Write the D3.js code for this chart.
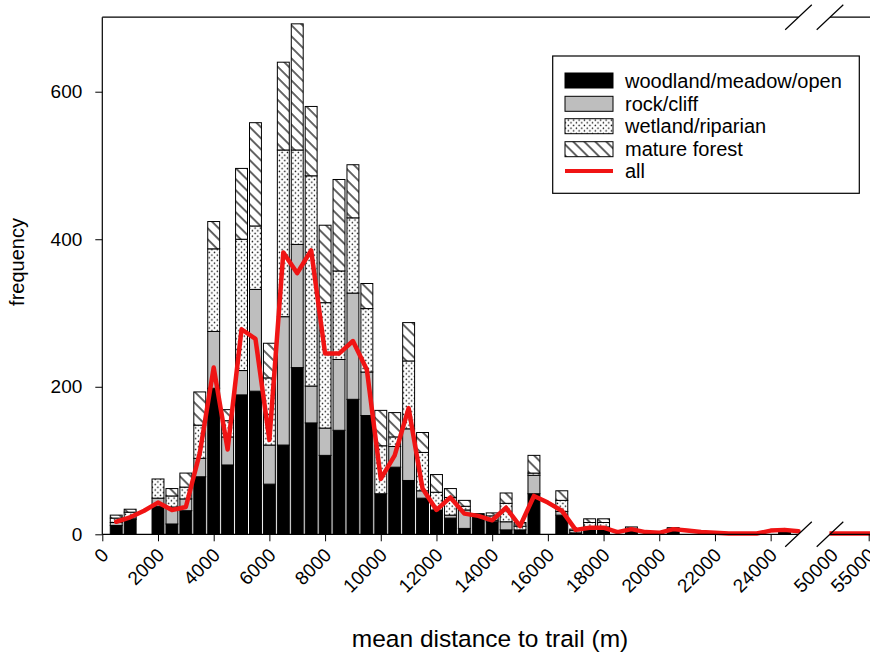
<!DOCTYPE html>
<html>
<head>
<meta charset="utf-8">
<script src="https://cdn.jsdelivr.net/npm/d3@7"></script>
<style>
  body { margin: 0; background: #fff; }
  svg { display: block; font-family: "Liberation Sans", Arial, sans-serif; }
</style>
</head>
<body>
<svg></svg>
<script>
// bin centres (m) for the bars
const bins = [500, 1000, 1500, 2000, 2500, 3000, 3500, 4000, 4500, 5000,
  5500, 6000, 6500, 7000, 7500, 8000, 8500, 9000, 9500, 10000,
  10500, 11000, 11500, 12000, 12500, 13000, 13500, 14000, 14500, 15000,
  15500, 16000, 16500, 17000, 17500, 18000, 18500, 19000, 19500, 20000,
  20500, 21000, 21500, 22000, 22500, 23000, 23500, 24000, 24500];

const woodland = [12, 20, 0, 38, 14, 32, 78, 198, 94, 189,
  194, 68, 121, 226, 151, 107, 141, 183, 161, 55,
  91, 73, 49, 33, 22, 8, 28, 17, 6, 6,
  55, 0, 26, 2, 8, 8, 0, 5, 0, 0,
  5, 0, 0, 0, 0, 0, 0, 0, 4];
const rock = [4, 2, 0, 11, 23, 16, 25, 77, 38, 33,
  138, 53, 174, 167, 50, 37, 96, 144, 59, 0,
  28, 70, 10, 0, 4, 25, 0, 2, 11, 0,
  25, 0, 5, 0, 2, 2, 0, 1, 0, 0,
  0, 0, 0, 0, 0, 0, 0, 0, 0];
const wetland = [6, 8, 0, 26, 15, 16, 45, 112, 22, 178,
  86, 91, 226, 128, 285, 170, 120, 102, 86, 65,
  13, 92, 52, 24, 24, 5, 0, 6, 25, 5,
  3, 0, 15, 3, 6, 6, 0, 2, 0, 0,
  2, 0, 0, 0, 0, 0, 0, 0, 0];
const mature = [4, 4, 0, 0, 10, 19, 45, 37, 15, 96,
  140, 47, 119, 171, 94, 105, 124, 72, 34, 48,
  33, 52, 27, 24, 12, 8, 0, 4, 14, 5,
  24, 0, 13, 2, 5, 5, 0, 2, 0, 0,
  2, 0, 0, 0, 0, 0, 0, 0, 1];

// "all" line, left of the axis break
const allDist = [500, 1000, 1500, 2000, 2500, 3000, 3500, 4000, 4500, 5000,
  5500, 6000, 6500, 7000, 7500, 8000, 8500, 9000, 9500, 10000,
  10500, 11000, 11500, 12000, 12500, 13000, 13500, 14000, 14500, 15000,
  15500, 16000, 16500, 17000, 17500, 18000, 18500, 19000, 19500, 20000,
  20500, 21000, 21500, 22000, 22500, 23000, 23500, 24000, 24500, 25000];
const allFreq = [17, 23, 32, 43, 33, 37, 110, 226, 115, 278,
  265, 128, 382, 354, 385, 245, 245, 262, 223, 75,
  107, 171, 62, 33, 50, 28, 25, 19, 36, 11,
  52, 43, 32, 6, 9, 9, 3, 7, 3, 2,
  7, 5, 3, 2, 1, 1, 1, 5, 6, 4];
// "all" line, right of the break
const farDist = [49700, 50500, 51500, 52500, 53500, 54500, 55500];
const farFreq = [1, 1, 1, 1, 1, 1, 1];

const xTicks = [0, 2000, 4000, 6000, 8000, 10000, 12000, 14000, 16000, 18000, 20000, 22000, 24000];
const xTicksFar = [50000, 55000];
const yTicks = [0, 200, 400, 600];

const keys = ["woodland", "rock", "wetland", "mature"];
const labels = ["woodland/meadow/open", "rock/cliff", "wetland/riparian", "mature forest"];

const svgWidth = 870;
const svgHeight = 654;
const plotLeft = 102.3;
const plotTop = 17.2;
const plotBottom = 534.3;
const breakA = 798.5;
const breakB = 830;

let svg = d3.select("svg")
  .attr("width", svgWidth)
  .attr("height", svgHeight);

//patterns
let defs = svg.append("defs");
let dots = defs.append("pattern")
  .attr("id", "dots")
  .attr("patternUnits", "userSpaceOnUse")
  .attr("width", 5.4)
  .attr("height", 5.4);
dots.append("rect").attr("width", 5.4).attr("height", 5.4).attr("fill", "#fff");
dots.append("circle").attr("cx", 1.3).attr("cy", 1.3).attr("r", 0.75).attr("fill", "#000");
dots.append("circle").attr("cx", 4).attr("cy", 4).attr("r", 0.75).attr("fill", "#000");

let hatch = defs.append("pattern")
  .attr("id", "hatch")
  .attr("patternUnits", "userSpaceOnUse")
  .attr("width", 7.8)
  .attr("height", 7.8)
  .attr("patternTransform", "rotate(-45)");
hatch.append("rect").attr("width", 7.8).attr("height", 7.8).attr("fill", "#fff");
hatch.append("line").attr("x1", 1).attr("x2", 1).attr("y1", 0).attr("y2", 7.8)
  .attr("stroke", "#000").attr("stroke-width", 1.2);

const fills = {
  woodland: "#000",
  rock: "#bebebe",
  wetland: "url(#dots)",
  mature: "url(#hatch)"
};

//scales
let xScale = d3.scaleLinear().domain([0, 25000]).range([plotLeft, breakA]);
let xFar = d3.scaleLinear().domain([50000, 55000]).range([831.7, 868.7]);
let yScale = d3.scaleLinear().domain([0, 701]).range([plotBottom, plotTop]);

//stacked bars
let table = bins.map((b, i) => ({
  bin: b,
  woodland: woodland[i],
  rock: rock[i],
  wetland: wetland[i],
  mature: mature[i]
}));
let stacked = d3.stack().keys(keys)(table);
const barW = xScale(500) - xScale(0) - 2;

svg.append("g").selectAll("g")
  .data(stacked)
  .enter()
  .append("g")
  .attr("fill", (d) => fills[d.key])
  .selectAll("rect")
  .data((d) => d.filter((s) => s[1] - s[0] > 0))
  .enter()
  .append("rect")
  .attr("x", (d) => xScale(d.data.bin) - barW / 2)
  .attr("y", (d) => yScale(d[1]))
  .attr("width", barW)
  .attr("height", (d) => yScale(d[0]) - yScale(d[1]))
  .attr("stroke", "#000")
  .attr("stroke-width", 1);

//all line
let line = d3.line().x((d) => d[0]).y((d) => d[1]);
svg.append("path")
  .attr("d", line(allDist.map((d, i) => [xScale(d), yScale(allFreq[i])])))
  .attr("fill", "none")
  .attr("stroke", "#f01414")
  .attr("stroke-width", 4.5)
  .attr("stroke-linejoin", "round")
  .attr("stroke-linecap", "round");
svg.append("path")
  .attr("d", line(farDist.map((d, i) => [xFar(d), yScale(farFreq[i])])))
  .attr("fill", "none")
  .attr("stroke", "#f01414")
  .attr("stroke-width", 4.5)
  .attr("stroke-linejoin", "round");

//frame lines
const frame = svg.append("g").attr("stroke", "#000").attr("stroke-width", 1.2);
frame.append("line").attr("x1", plotLeft).attr("x2", plotLeft).attr("y1", plotTop).attr("y2", plotBottom);
frame.append("line").attr("x1", plotLeft).attr("x2", breakA).attr("y1", plotTop).attr("y2", plotTop);
frame.append("line").attr("x1", breakB).attr("x2", svgWidth).attr("y1", plotTop).attr("y2", plotTop);
frame.append("line").attr("x1", plotLeft).attr("x2", breakA).attr("y1", plotBottom).attr("y2", plotBottom);
frame.append("line").attr("x1", breakB).attr("x2", svgWidth).attr("y1", plotBottom).attr("y2", plotBottom);
[breakA, breakB].forEach((bx) => {
  [plotTop, plotBottom].forEach((by) => {
    frame.append("line")
      .attr("x1", bx - 13.3).attr("y1", by + 12.5)
      .attr("x2", bx + 13.3).attr("y2", by - 12.5);
  });
});

//axes
let yAxis = d3.axisLeft(yScale).tickValues(yTicks).tickSize(7).tickPadding(13).tickSizeOuter(0);
let gy = svg.append("g").attr("transform", `translate(${plotLeft}, 0)`).call(yAxis);
gy.select(".domain").remove();
gy.selectAll("text").attr("font-size", 19).attr("font-family", "Liberation Sans, Arial, sans-serif").attr("fill", "#000");

function styleX(g) {
  g.select(".domain").remove();
  g.selectAll("text")
    .attr("font-size", 19)
    .attr("font-family", "Liberation Sans, Arial, sans-serif")
    .attr("fill", "#000")
    .attr("text-anchor", "end")
    .attr("x", 0)
    .attr("y", 0)
    .attr("dy", 0)
    .attr("transform", "translate(7, 22) rotate(-45)");
}
let gx = svg.append("g").attr("transform", `translate(0, ${plotBottom})`)
  .call(d3.axisBottom(xScale).tickValues(xTicks).tickFormat(d3.format("d")).tickSize(7).tickSizeOuter(0));
styleX(gx);
let gx2 = svg.append("g").attr("transform", `translate(0, ${plotBottom})`)
  .call(d3.axisBottom(xFar).tickValues(xTicksFar).tickFormat(d3.format("d")).tickSize(7).tickSizeOuter(0));
styleX(gx2);
gx2.selectAll(".tick line").filter((d) => d === 50000).remove();

//axis titles
svg.append("text")
  .attr("text-anchor", "middle")
  .attr("font-size", 20)
  .attr("transform", "translate(24, 262) rotate(-90)")
  .text("frequency");

svg.append("text")
  .attr("text-anchor", "middle")
  .attr("font-size", 24.5)
  .attr("x", 490)
  .attr("y", 647)
  .text("mean distance to trail (m)");

//legend
let legend = svg.append("g");
legend.append("rect")
  .attr("x", 552.7).attr("y", 56)
  .attr("width", 306.6).attr("height", 137.3)
  .attr("fill", "#fff").attr("stroke", "#000").attr("stroke-width", 1.2);

const rowY = [80.5, 103.8, 126.2, 149.2, 171];
keys.forEach((k, i) => {
  legend.append("rect")
    .attr("x", 565).attr("y", rowY[i] - 7.5)
    .attr("width", 48).attr("height", 15)
    .attr("fill", fills[k]).attr("stroke", "#000").attr("stroke-width", 1);
  legend.append("text")
    .attr("x", 625).attr("y", rowY[i] + 7)
    .attr("font-size", 20)
    .text(labels[i]);
});
legend.append("line")
  .attr("x1", 565).attr("x2", 613)
  .attr("y1", rowY[4]).attr("y2", rowY[4])
  .attr("stroke", "#f01414").attr("stroke-width", 4);
legend.append("text")
  .attr("x", 625).attr("y", rowY[4] + 7)
  .attr("font-size", 20)
  .text("all");
</script>
</body>
</html>
